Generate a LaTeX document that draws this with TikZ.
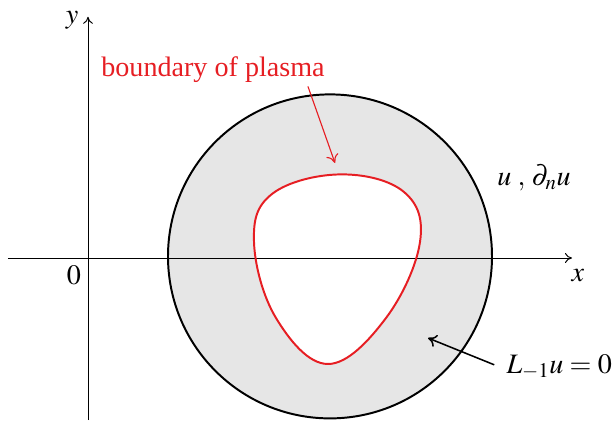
\documentclass[tikz,border=0pt]{standalone}
\usepackage{mathptmx}
\usepackage{fontspec}
\setmainfont{Liberation Serif}
\usepackage{tikz}
\usetikzlibrary{arrows.meta}

\definecolor{plasmared}{RGB}{230,30,35}
\definecolor{ringgray}{RGB}{230,230,230}

\begin{document}
\begin{tikzpicture}[
    axis/.style={line width=0.7pt, -{To[length=5pt,width=7pt]}},
    lbl/.style={font=\fontsize{20}{24}\selectfont, inner sep=0pt},
    pointer/.style={line width=1.1pt, -{To[length=6pt,width=9pt]}}
  ]
  \useasboundingbox (-2.2,-4.05) rectangle (13.125,6.45);
  % shaded region between circle and plasma boundary
  \fill[ringgray, even odd rule] (6.05,0.04) circle (4.05)
    plot[smooth cycle, tension=0.65] coordinates {(6.3,2.09) (7.9,1.65) (8.3,0.4) (7.45,-1.5)
      (6.0,-2.65) (4.7,-1.5) (4.15,0.4) (4.6,1.6)};
  % axes
  \draw[axis] (-2.0,0) -- (12.1,0);
  \draw[axis] (0,-4.05) -- (0,6.03);
  \node[lbl] (xl) at (12.25,-0.45) {$x$};
  \node[lbl] (yl) at (-0.4,5.95) {$y$};
  \node[lbl] (orig) at (-0.35,-0.43) {$0$};
  % outer circle and plasma boundary
  \draw[line width=1.4pt] (6.05,0.04) circle (4.05);
  \draw[plasmared, line width=1.4pt]
    plot[smooth cycle, tension=0.65] coordinates {(6.3,2.09) (7.9,1.65) (8.3,0.4) (7.45,-1.5)
      (6.0,-2.65) (4.7,-1.5) (4.15,0.4) (4.6,1.6)};
  % labels
  \node[lbl, text=plasmared] (bnd) at (3.125,4.72) {boundary of plasma};
  \node[lbl] (data) at (11.15,2.0) {$u\;,\,\partial_n u$};
  \node[lbl] (eq) at (11.78,-2.72) {$L_{-1}u=0$};
  \coordinate (bndtip) at (6.175,2.375);
  \coordinate (eqtip) at (8.5,-2.0);
  \draw[pointer, plasmared, line width=0.8pt] ([xshift=-0.425cm,yshift=-0.1cm]bnd.south east) -- (bndtip);
  \draw[pointer] ([xshift=-0.3cm,yshift=0.05cm]eq.west) -- (eqtip);
\end{tikzpicture}
\end{document}
